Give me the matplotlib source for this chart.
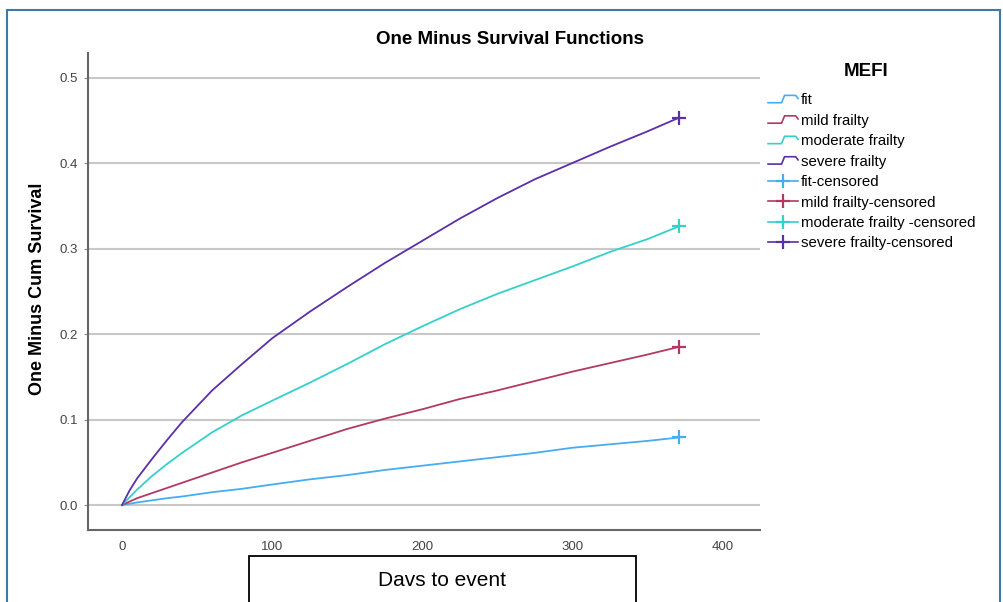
import numpy as np
import matplotlib.pyplot as plt
import matplotlib.patches as mpatches
from matplotlib.lines import Line2D
from matplotlib.legend_handler import HandlerBase

plt.rcParams['font.family'] = ['Liberation Sans', 'DejaVu Sans']

days = [0, 5, 10, 20, 30, 40, 60, 80, 100, 125, 150, 175, 200, 225, 250, 275,
        300, 325, 350, 371]
fit = [0, 0.0015, 0.003, 0.0055, 0.008, 0.010, 0.015, 0.019, 0.024, 0.030,
       0.035, 0.041, 0.046, 0.051, 0.056, 0.061, 0.067, 0.071, 0.075, 0.079]
mild = [0, 0.004, 0.008, 0.014, 0.020, 0.026, 0.038, 0.050, 0.061, 0.075,
        0.089, 0.101, 0.112, 0.124, 0.134, 0.145, 0.156, 0.166, 0.176, 0.185]
moderate = [0, 0.009, 0.018, 0.034, 0.048, 0.061, 0.085, 0.105, 0.122, 0.143,
            0.165, 0.188, 0.209, 0.229, 0.247, 0.263, 0.279, 0.296, 0.311, 0.326]
severe = [0, 0.017, 0.031, 0.054, 0.076, 0.097, 0.134, 0.165, 0.195, 0.226,
          0.255, 0.283, 0.309, 0.335, 0.359, 0.381, 0.400, 0.419, 0.437, 0.453]

groups = ['fit', 'mild frailty', 'moderate frailty', 'severe frailty']
censored_labels = ['fit-censored', 'mild frailty-censored',
                   'moderate frailty -censored', 'severe frailty-censored']
colors = ['#45adf2', '#b03a63', '#35d0cb', '#5b2fa6']
series = [fit, mild, moderate, severe]


class StepHandler(HandlerBase):
    def create_artists(self, legend, orig_handle, xd, yd, width, height,
                       fontsize, trans):
        x = np.array([0, 0.45, 0.55, 0.92, 1.0]) * width - xd
        y = np.array([0.15, 0.15, 0.85, 0.85, 0.55]) * height - yd
        ln = Line2D(x, y, color=orig_handle.get_color(), lw=1.2,
                    transform=trans)
        return [ln]


fig = plt.figure(figsize=(10.04, 6.02), dpi=100)
ax = fig.add_axes([0.0876, 0.1196, 0.6694, 0.7924])

line_handles = []
for vals, c in zip(series, colors):
    ln, = ax.plot(days, vals, color=c, lw=1.3)
    line_handles.append(ln)
cens_handles = []
for vals, c in zip(series, colors):
    m, = ax.plot(days[-1], vals[-1], marker='+', color=c, ms=10, mew=1.6,
                 lw=1.2, linestyle='-')
    cens_handles.append(m)

ax.set_xlim(-22.7, 425)
ax.set_ylim(-0.0292, 0.5287)
ax.set_xticks([0, 100, 200, 300, 400])
ax.set_yticks([0.0, 0.1, 0.2, 0.3, 0.4, 0.5])
ax.set_yticklabels(['0.0', '0.1', '0.2', '0.3', '0.4', '0.5'])
ax.grid(axis='y', color='#c8c8c8', lw=1.5)
ax.set_axisbelow(True)
for s in ['top', 'right']:
    ax.spines[s].set_visible(False)
for s in ['left', 'bottom']:
    ax.spines[s].set_color('#666666')
    ax.spines[s].set_linewidth(1.5)
ax.tick_params(axis='x', length=0, pad=8, labelsize=9.5, labelcolor='#444444')
ax.tick_params(axis='y', length=3, pad=4, labelsize=9.5, labelcolor='#444444',
               color='#888888')

fig.text(0.508, 0.934, 'One Minus Survival Functions', ha='center',
         va='center', fontsize=13.5, fontweight='bold')
fig.text(0.037, 0.52, 'One Minus Cum Survival', ha='center', va='center',
         rotation=90, fontsize=13, fontweight='bold')

fig.text(866 / 1004, (602 - 72) / 602, 'MEFI', ha='center', va='center',
         fontsize=13.5, fontweight='bold')
leg = fig.legend(line_handles + cens_handles, groups + censored_labels,
                 handler_map={h: StepHandler() for h in line_handles},
                 loc='upper left', bbox_to_anchor=(0.765, 0.845),
                 frameon=False, fontsize=10.8, borderpad=0, borderaxespad=0,
                 handlelength=2.0, handletextpad=0.2, labelspacing=0.43)

# outer frame
fig.patches.append(mpatches.Rectangle((7 / 1004, -0.05), 993 / 1004,
                                      (602 - 10) / 602 + 0.05,
                                      transform=fig.transFigure, fill=False,
                                      edgecolor='#3f7aa6', lw=1.5))
# x label box
fig.patches.append(mpatches.Rectangle((249 / 1004, -0.05), 387 / 1004,
                                      (602 - 556) / 602 + 0.05,
                                      transform=fig.transFigure, fill=False,
                                      edgecolor='black', lw=1.3))
fig.text(442 / 1004, (602 - 581) / 602, 'Davs to event', ha='center',
         va='center', fontsize=15)

fig.savefig('out.png', dpi=100)
